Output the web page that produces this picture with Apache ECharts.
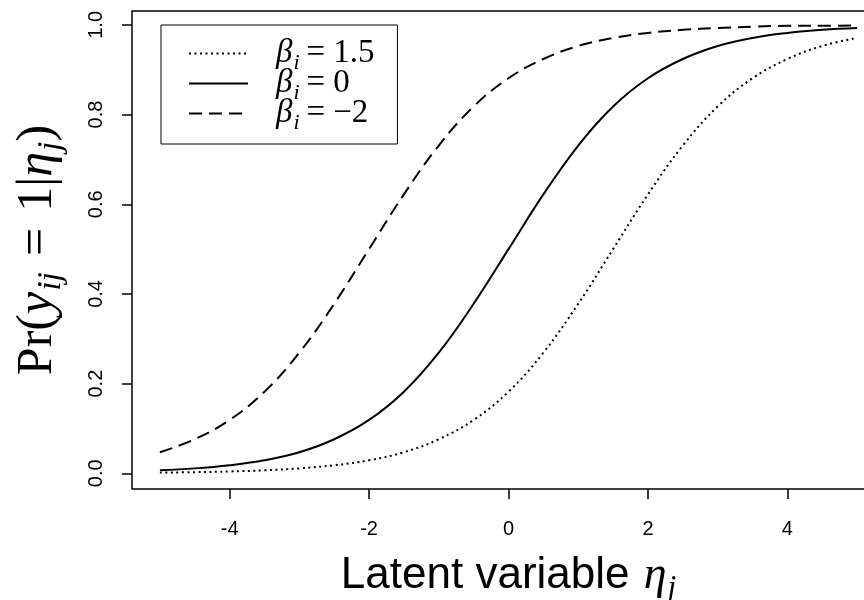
<!DOCTYPE html>
<html>
<head>
<meta charset="utf-8">
<script src="https://cdn.jsdelivr.net/npm/echarts@6/dist/echarts.min.js"></script>
<style>
html,body{margin:0;padding:0;background:#fff;}
#chart{width:864px;height:600px;}
</style>
</head>
<body>
<div id="chart"></div>
<script>
// Latent variable values (x) at which the curves were read
const etaValues = [-5, -4.5, -4, -3.5, -3, -2.5, -2, -1.5, -1, -0.5, 0, 0.5, 1, 1.5, 2, 2.5, 3, 3.5, 4, 4.5, 5];
// Pr(y_ij = 1 | eta_j)
const probBetaPos15 = [0.0015, 0.0025, 0.0041, 0.0067, 0.011, 0.018, 0.029, 0.047, 0.076, 0.119, 0.182, 0.269, 0.378, 0.5, 0.622, 0.731, 0.818, 0.881, 0.924, 0.953, 0.971];
const probBeta0 = [0.007, 0.011, 0.018, 0.029, 0.047, 0.076, 0.119, 0.182, 0.269, 0.378, 0.5, 0.622, 0.731, 0.818, 0.881, 0.924, 0.953, 0.971, 0.982, 0.989, 0.993];
const probBetaNeg2 = [0.047, 0.076, 0.119, 0.182, 0.269, 0.378, 0.5, 0.622, 0.731, 0.818, 0.881, 0.924, 0.953, 0.971, 0.982, 0.989, 0.993, 0.996, 0.998, 0.998, 0.999];
// legend labels (beta_i values)
const betaLabels = ['1.5', '0', '\u22122'];
// tick labels
const xTicks = [-4, -2, 0, 2, 4];
const yTicks = [0, 0.2, 0.4, 0.6, 0.8, 1.0];

const serif = 'Liberation Serif';
const sans = 'Liberation Sans';

function pairs(ys) { return etaValues.map((x, i) => [x, ys[i]]); }

const seriesNames = betaLabels.map(b => 'beta=' + b);
const styles = [
  { type: [2, 3.5] },
  { type: 'solid' },
  { type: [13, 7] }
];
const dataSets = [probBetaPos15, probBeta0, probBetaNeg2];

const chart = echarts.init(document.getElementById('chart'), null, { renderer: 'canvas' });
chart.setOption({
  animation: false,
  backgroundColor: '#fff',
  grid: {
    left: 132, top: 11, width: 753, height: 478,
    outerBoundsMode: 'none', containLabel: false,
    show: true, borderColor: '#000', borderWidth: 1.5, backgroundColor: 'transparent'
  },
  legend: {
    left: 161, top: 25, orient: 'vertical',
    padding: [8, 23, 10, 27],
    borderColor: '#000', borderWidth: 1,
    itemWidth: 59, itemHeight: 14, itemGap: -11,
    itemStyle: { opacity: 0 },
    data: seriesNames,
    formatter: function (name) {
      const b = betaLabels[seriesNames.indexOf(name)];
      return '{g|\u03B2}{s|i}{e|=}{n|' + b + '}';
    },
    textStyle: {
      color: '#000',
      rich: {
        g: { fontFamily: serif, fontStyle: 'italic', fontSize: 33, lineHeight: 28, padding: [0, 0, 0, 23], color: '#000' },
        s: { fontFamily: serif, fontStyle: 'italic', fontSize: 22, lineHeight: 6, padding: [19, 0, 0, 1], color: '#000' },
        e: { fontFamily: serif, fontSize: 33, lineHeight: 28, padding: [0, 8, 0, 7], color: '#000' },
        n: { fontFamily: serif, fontSize: 33, lineHeight: 28, color: '#000' }
      }
    }
  },
  xAxis: {
    type: 'value', min: -5.4, max: 5.4,
    axisLine: { show: false, onZero: false },
    splitLine: { show: false },
    axisTick: { show: true, length: 10, customValues: xTicks, lineStyle: { color: '#000', width: 1.5 } },
    axisLabel: { customValues: xTicks, margin: 30, fontFamily: sans, fontSize: 20, color: '#000' },
    name: '{t|Latent variable }{i|\u03B7}{s|j}',
    nameLocation: 'middle',
    nameGap: 66,
    nameTextStyle: {
      rich: {
        t: { fontFamily: sans, fontSize: 44, lineHeight: 42, color: '#000' },
        i: { fontFamily: serif, fontStyle: 'italic', fontSize: 46, lineHeight: 42, padding: [0, 0, 0, 2], color: '#000' },
        s: { fontFamily: serif, fontStyle: 'italic', fontSize: 31, lineHeight: 10, padding: [25, 0, 0, 1], color: '#000' }
      }
    }
  },
  yAxis: {
    type: 'value', min: -0.035, max: 1.031,
    axisLine: { show: false, onZero: false },
    splitLine: { show: false },
    axisTick: { show: true, length: 10, customValues: yTicks, lineStyle: { color: '#000', width: 1.5 } },
    axisLabel: {
      customValues: yTicks, rotate: 90, margin: 26, fontFamily: sans, fontSize: 20, color: '#000',
      formatter: v => v.toFixed(1)
    },
    name: '{r|Pr(}{i|y}{s|ij}{e|=}{r|1|}{i|\u03B7}{s|j}{r|)}',
    nameLocation: 'middle',
    nameRotate: 90,
    nameGap: 71,
    nameTextStyle: {
      rich: {
        r: { fontFamily: serif, fontSize: 50, lineHeight: 46, color: '#000' },
        i: { fontFamily: serif, fontStyle: 'italic', fontSize: 50, lineHeight: 46, color: '#000' },
        e: { fontFamily: serif, fontSize: 50, lineHeight: 46, padding: [0, 16, 0, 16], color: '#000' },
        s: { fontFamily: serif, fontStyle: 'italic', fontSize: 34, lineHeight: 10, padding: [27, 0, 0, 1], color: '#000' }
      }
    }
  },
  series: seriesNames.map((n, k) => ({
    name: n,
    type: 'line',
    data: pairs(dataSets[k]),
    symbol: 'none',
    smooth: 0.4,
    lineStyle: { color: '#000', width: 2, type: styles[k].type, cap: 'butt' },
    itemStyle: { color: '#000' }
  }))
});
</script>
</body>
</html>
